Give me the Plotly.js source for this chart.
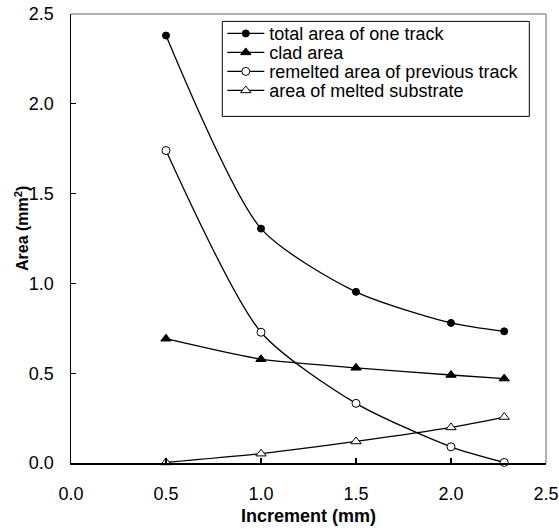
<!DOCTYPE html>
<html>
<head>
<meta charset="utf-8">
<script src="https://cdn.plot.ly/plotly-3.0.1.min.js"></script>
<style>html,body{margin:0;padding:0;background:#fff;}#chart{width:559px;height:529px;}</style>
</head>
<body>
<div id="chart"></div>
<script>
const increment = [0.5, 1.0, 1.5, 2.0, 2.28];
const totalArea = [2.38, 1.305, 0.953, 0.78, 0.733];
const cladArea = [0.692, 0.578, 0.53, 0.49, 0.47];
const remeltedArea = [1.74, 0.728, 0.332, 0.09, 0.003];
const meltedSubstrate = [0.003, 0.052, 0.12, 0.198, 0.256];
const seriesNames = ["total area of one track", "clad area", "remelted area of previous track", "area of melted substrate"];
const xTicks = [0, 0.5, 1.0, 1.5, 2.0, 2.5];
const yTicks = [0, 0.5, 1.0, 1.5, 2.0, 2.5];

const FONT = "Liberation Sans, Arial, sans-serif";
const lineStyle = {color: "#000", width: 1.3, shape: "spline", smoothing: 0.7};

function trace(y, name, symbol, fill, size, legendId) {
  return {
    x: increment, y: y, name: name, type: "scatter", mode: "lines+markers",
    line: lineStyle, legend: legendId,
    marker: {symbol: symbol, size: size, color: fill, line: {color: "#000", width: 1}},
    cliponaxis: false
  };
}

const data = [
  trace(totalArea, seriesNames[0], "circle", "#000", 7, "legend"),
  trace(cladArea, seriesNames[1], "triangle-up", "#000", 9, "legend2"),
  trace(remeltedArea, seriesNames[2], "circle", "#fff", 8, "legend3"),
  trace(meltedSubstrate, seriesNames[3], "triangle-up", "#fff", 9, "legend4")
];

// plot-area geometry in pixels (x 70.7..545.7, y 14.3..463.3)
const PL = 70.7, PR = 545.7, PT = 14.3, PB = 463.3;
const px = v => (v - PL) / (PR - PL);
const py = v => (PB - v) / (PB - PT);

function legendBox(rowY) {
  return {
    x: px(222), y: py(rowY), xanchor: "left", yanchor: "middle",
    borderwidth: 0, bgcolor: "rgba(0,0,0,0)", itemwidth: 37,
    font: {family: FONT, size: 18, color: "#000"}
  };
}

const layout = {
  width: 559, height: 529,
  margin: {l: PL, r: 559 - PR, t: PT, b: 529 - PB},
  paper_bgcolor: "#fff", plot_bgcolor: "#fff",
  font: {family: FONT, size: 18, color: "#000"},
  showlegend: true,
  legend: legendBox(34),
  legend2: legendBox(53),
  legend3: legendBox(72),
  legend4: legendBox(91),
  xaxis: {
    range: [0, 2.5], tickvals: xTicks, ticktext: xTicks.map(v => v.toFixed(1)),
    showgrid: false, zeroline: false, showline: true, linecolor: "#000", linewidth: 1.5,
    ticks: "inside", ticklen: 5, tickcolor: "#000", tickwidth: 1.2,
    ticklabelstandoff: 14,
    title: {text: "<b>Increment (mm)</b>", font: {family: FONT, size: 18}, standoff: 6},
    fixedrange: true
  },
  yaxis: {
    range: [0, 2.5], tickvals: yTicks, ticktext: yTicks.map(v => v.toFixed(1)),
    showgrid: false, zeroline: false, showline: true, linecolor: "#000", linewidth: 1.5,
    ticks: "inside", ticklen: 5, tickcolor: "#000", tickwidth: 1.2,
    ticklabelstandoff: 12,
    fixedrange: true
  },
  shapes: [
    {type: "line", xref: "paper", yref: "paper", x0: 0, x1: 1, y0: 1, y1: 1, line: {color: "#b0b0b0", width: 2}, layer: "below"},
    {type: "line", xref: "paper", yref: "paper", x0: 1, x1: 1, y0: 0, y1: 1, line: {color: "#b0b0b0", width: 2}, layer: "below"},
    {type: "rect", xref: "paper", yref: "paper", x0: px(222), x1: px(529), y0: py(116.7), y1: py(21.7),
     line: {color: "#000", width: 1}, fillcolor: "#fff", layer: "above"}
  ],
  annotations: [
    {text: "<b>Area (mm<sup>2</sup>)</b>", xref: "paper", yref: "paper", x: px(21), y: py(229),
     xanchor: "center", yanchor: "middle", textangle: -90, showarrow: false,
     font: {family: FONT, size: 16, color: "#000"}}
  ]
};

Plotly.newPlot("chart", data, layout, {displayModeBar: false, staticPlot: true});
</script>
</body>
</html>
